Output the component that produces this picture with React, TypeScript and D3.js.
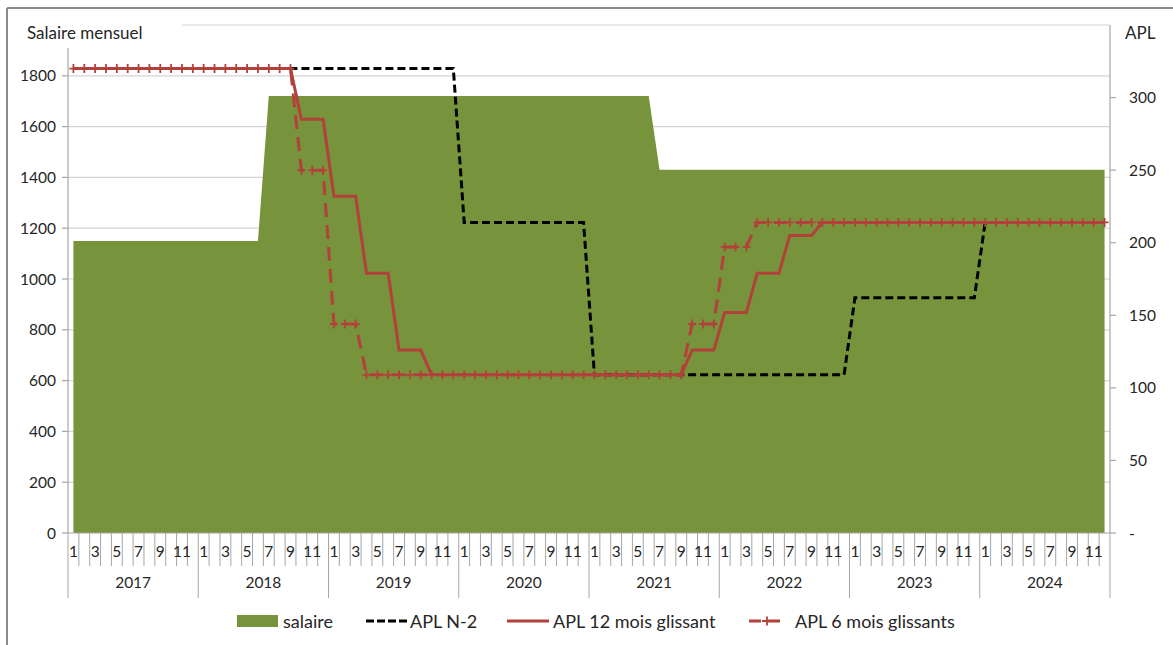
import React from "react";
import * as d3 from "d3";

// ---- data (monthly, Jan 2017 .. Dec 2024) ----
const years = ["2017", "2018", "2019", "2020", "2021", "2022", "2023", "2024"];
const monthLabels = ["1", "", "3", "", "5", "", "7", "", "9", "", "11", ""];
const leftTicks = [0, 200, 400, 600, 800, 1000, 1200, 1400, 1600, 1800, 2000];
const rightTicks = [0, 50, 100, 150, 200, 250, 300];

const salaire = [
  1150, 1150, 1150, 1150, 1150, 1150, 1150, 1150, 1150, 1150, 1150, 1150,
  1150, 1150, 1150, 1150, 1150, 1150, 1720, 1720, 1720, 1720, 1720, 1720,
  1720, 1720, 1720, 1720, 1720, 1720, 1720, 1720, 1720, 1720, 1720, 1720,
  1720, 1720, 1720, 1720, 1720, 1720, 1720, 1720, 1720, 1720, 1720, 1720,
  1720, 1720, 1720, 1720, 1720, 1720, 1430, 1430, 1430, 1430, 1430, 1430,
  1430, 1430, 1430, 1430, 1430, 1430, 1430, 1430, 1430, 1430, 1430, 1430,
  1430, 1430, 1430, 1430, 1430, 1430, 1430, 1430, 1430, 1430, 1430, 1430,
  1430, 1430, 1430, 1430, 1430, 1430, 1430, 1430, 1430, 1430, 1430, 1430,
];

const aplN2 = [
  320, 320, 320, 320, 320, 320, 320, 320, 320, 320, 320, 320,
  320, 320, 320, 320, 320, 320, 320, 320, 320, 320, 320, 320,
  320, 320, 320, 320, 320, 320, 320, 320, 320, 320, 320, 320,
  214, 214, 214, 214, 214, 214, 214, 214, 214, 214, 214, 214,
  109, 109, 109, 109, 109, 109, 109, 109, 109, 109, 109, 109,
  109, 109, 109, 109, 109, 109, 109, 109, 109, 109, 109, 109,
  162, 162, 162, 162, 162, 162, 162, 162, 162, 162, 162, 162,
  214, 214, 214, 214, 214, 214, 214, 214, 214, 214, 214, 214,
];

const apl12 = [
  320, 320, 320, 320, 320, 320, 320, 320, 320, 320, 320, 320,
  320, 320, 320, 320, 320, 320, 320, 320, 320, 285, 285, 285,
  232, 232, 232, 179, 179, 179, 126, 126, 126, 109, 109, 109,
  109, 109, 109, 109, 109, 109, 109, 109, 109, 109, 109, 109,
  109, 109, 109, 109, 109, 109, 109, 109, 109, 126, 126, 126,
  152, 152, 152, 179, 179, 179, 205, 205, 205, 214, 214, 214,
  214, 214, 214, 214, 214, 214, 214, 214, 214, 214, 214, 214,
  214, 214, 214, 214, 214, 214, 214, 214, 214, 214, 214, 214,
];

const apl6 = [
  320, 320, 320, 320, 320, 320, 320, 320, 320, 320, 320, 320,
  320, 320, 320, 320, 320, 320, 320, 320, 320, 250, 250, 250,
  144, 144, 144, 109, 109, 109, 109, 109, 109, 109, 109, 109,
  109, 109, 109, 109, 109, 109, 109, 109, 109, 109, 109, 109,
  109, 109, 109, 109, 109, 109, 109, 109, 109, 144, 144, 144,
  197, 197, 197, 214, 214, 214, 214, 214, 214, 214, 214, 214,
  214, 214, 214, 214, 214, 214, 214, 214, 214, 214, 214, 214,
  214, 214, 214, 214, 214, 214, 214, 214, 214, 214, 214, 214,
];

// ---- style ----
const FONT = "Lato, 'Open Sans', sans-serif";
const GREEN = "#77933C";
const RED = "#B3413B";
const GRID = "#D4D4D4";
const AXIS = "#A6A6A6";
const TEXT = "#262626";

const W = 1173;
const H = 645;
const PL = 68;
const PR = 1110;
const PT = 25;
const PB = 533;

export default function App() {
  const n = salaire.length;
  const idx = d3.range(n);
  const x = d3.scaleBand<number>().domain(idx).range([PL, PR]).padding(0);
  const bw = x.bandwidth();
  const cx = (i: number) => (x(i) as number) + bw / 2;
  const yL = d3.scaleLinear().domain([0, 2000]).range([PB, PT]);
  const yR = d3.scaleLinear().domain([0, 350]).range([PB, PT]);

  const area = d3
    .area<number>()
    .x((_, i) => cx(i))
    .y0(yL(0))
    .y1((d) => yL(d));
  const line = d3
    .line<number>()
    .x((_, i) => cx(i))
    .y((d) => yR(d));

  const fs = 15.5;

  return (
    <svg
      width={W}
      height={H}
      style={{ position: "absolute", left: 0, top: 0, background: "#fff" }}
      fontFamily={FONT}
    >
      <rect x={0} y={0} width={W} height={H} fill="#fff" />
      {/* frame */}
      <line x1={7} y1={8} x2={W} y2={8} stroke="#8C8C8C" strokeWidth={2} />
      <line x1={7} y1={8} x2={7} y2={H} stroke="#8C8C8C" strokeWidth={2} />

      {/* gridlines */}
      {leftTicks
        .filter((t) => t > 0)
        .map((t) => (
          <line key={"g" + t} x1={PL} x2={PR} y1={yL(t)} y2={yL(t)} stroke={GRID} strokeWidth={1.2} />
        ))}

      {/* salaire area */}
      <path d={area(salaire) || ""} fill={GREEN} />

      {/* axes */}
      <line x1={PL} x2={PL} y1={PT} y2={PB} stroke={AXIS} strokeWidth={1.2} />
      <line x1={PR} x2={PR} y1={PT} y2={PB} stroke={AXIS} strokeWidth={1.2} />
      <line x1={PL} x2={PR} y1={PB} y2={PB} stroke={AXIS} strokeWidth={1.2} />

      {leftTicks
        .filter((t) => t < 2000)
        .map((t) => (
          <g key={"l" + t}>
            <line x1={PL - 6} x2={PL} y1={yL(t)} y2={yL(t)} stroke={AXIS} strokeWidth={1.2} />
            <text x={56} y={yL(t)} dy="0.36em" textAnchor="end" fontSize={fs} fill={TEXT}>
              {t}
            </text>
          </g>
        ))}
      {rightTicks.map((t) => (
        <g key={"r" + t}>
          <line x1={PR} x2={PR + 6} y1={yR(t)} y2={yR(t)} stroke={AXIS} strokeWidth={1.2} />
          <text x={1129} y={yR(t)} dy="0.36em" textAnchor="start" fontSize={fs} fill={TEXT}>
            {t === 0 ? "-" : t}
          </text>
        </g>
      ))}

      {/* x axis: month separators, labels, year separators */}
      {idx.map((i) => (
        <line
          key={"mt" + i}
          x1={x(i) as number}
          x2={x(i) as number}
          y1={PB}
          y2={i % 12 === 0 ? 598 : 566}
          stroke={AXIS}
          strokeWidth={1}
        />
      ))}
      <line x1={PR} x2={PR} y1={PB} y2={598} stroke={AXIS} strokeWidth={1} />
      {idx.map((i) =>
        monthLabels[i % 12] ? (
          <text key={"ml" + i} x={cx(i)} y={557} textAnchor="middle" fontSize={fs} fill={TEXT}>
            {monthLabels[i % 12]}
          </text>
        ) : null
      )}
      {years.map((yr, k) => {
        const a = x(k * 12) as number;
        const b = (x(k * 12 + 11) as number) + bw;
        return (
          <text key={"y" + yr} x={(a + b) / 2} y={588} textAnchor="middle" fontSize={fs} fill={TEXT}>
            {yr}
          </text>
        );
      })}

      {/* lines */}
      <path d={line(aplN2) || ""} fill="none" stroke="#000" strokeWidth={3} strokeDasharray="8 4" />
      <path d={line(apl12) || ""} fill="none" stroke={RED} strokeWidth={3} />
      <path d={line(apl6) || ""} fill="none" stroke={RED} strokeWidth={3} strokeDasharray="14 8" />
      {apl6.map((d, i) => (
        <path
          key={"pm" + i}
          d={`M${cx(i) - 4},${yR(d)}H${cx(i) + 4}M${cx(i)},${yR(d) - 4.5}V${yR(d) + 4.5}`}
          stroke={RED}
          strokeWidth={1.8}
        />
      ))}

      {/* axis titles */}
      <rect x={20} y={14} width={162} height={34} fill="#fff" />
      <text x={27} y={39} fontSize={17} fill={TEXT}>
        Salaire mensuel
      </text>
      <text x={1125} y={39} fontSize={17} fill={TEXT}>
        APL
      </text>

      {/* legend */}
      <g fontSize={18} fill={TEXT}>
        <rect x={237} y={615} width={41} height={12} fill={GREEN} />
        <text x={283} y={628}>salaire</text>
        <line x1={366} x2={407} y1={621} y2={621} stroke="#000" strokeWidth={3} strokeDasharray="8 3" />
        <text x={410} y={628}>APL N-2</text>
        <line x1={507} x2={549} y1={621} y2={621} stroke={RED} strokeWidth={3} />
        <text x={553} y={628}>APL 12 mois glissant</text>
        <line x1={749} x2={783} y1={621} y2={621} stroke={RED} strokeWidth={3} strokeDasharray="12 7" />
        <path d="M762,621H772M767,616.5V625.5" stroke={RED} strokeWidth={1.8} />
        <text x={795} y={628}>APL 6 mois glissants</text>
      </g>
    </svg>
  );
}
